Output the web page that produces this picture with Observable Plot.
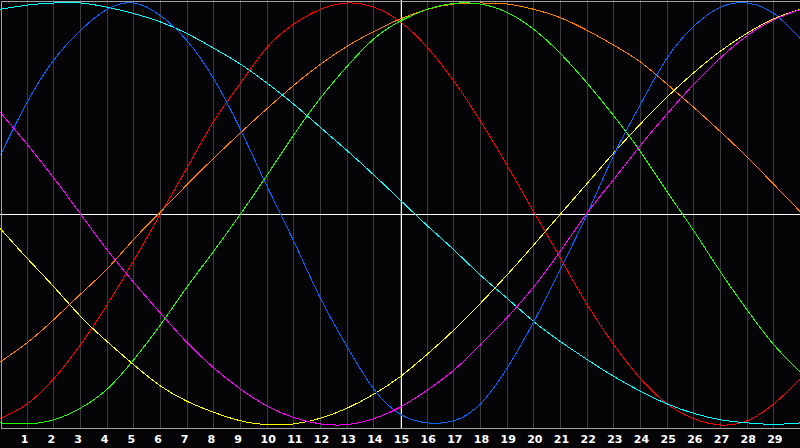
<!DOCTYPE html>
<html>
<head>
<meta charset="utf-8">
<script src="https://cdn.jsdelivr.net/npm/d3@7"></script>
<script src="https://cdn.jsdelivr.net/npm/@observablehq/plot@0.6"></script>
<style>
  html, body { margin: 0; padding: 0; background: #000; }
  #chart { width: 800px; height: 448px; }
</style>
</head>
<body>
<div id="chart"></div>
<script>
// Day positions (0..30)
const days = [0,1,2,3,4,5,6,7,8,9,10,11,12,13,14,15,16,17,18,19,20,21,22,23,24,25,26,27,28,29,30];
// Tick labels along the bottom
const tickDays = [1,2,3,4,5,6,7,8,9,10,11,12,13,14,15,16,17,18,19,20,21,22,23,24,25,26,27,28,29];
const todayMarker = [15];

// Series values (range -1..1)
const emotionalValues    = [-0.97,-0.90,-0.78,-0.62,-0.43,-0.22,0.00,0.22,0.44,0.62,0.79,0.90,0.97,1.00,0.98,0.91,0.79,0.63,0.44,0.23,0.01,-0.21,-0.43,-0.62,-0.78,-0.90,-0.97,-1.00,-0.98,-0.90,-0.78];
const awarenessValues    = [-0.70,-0.61,-0.50,-0.38,-0.26,-0.12,0.01,0.14,0.265,0.385,0.50,0.61,0.71,0.795,0.865,0.925,0.97,0.995,1.00,0.995,0.97,0.93,0.87,0.80,0.72,0.615,0.505,0.39,0.27,0.14,0.01];
const aestheticValues    = [-0.07,-0.21,-0.345,-0.485,-0.605,-0.715,-0.815,-0.888,-0.94,-0.98,-0.998,-0.995,-0.968,-0.92,-0.854,-0.77,-0.665,-0.55,-0.423,-0.288,-0.146,0.0,0.145,0.29,0.427,0.555,0.67,0.772,0.857,0.925,0.97];
const intellectualValues = [-0.99,-0.995,-0.975,-0.92,-0.83,-0.69,-0.525,-0.345,-0.175,0.0,0.185,0.375,0.55,0.70,0.83,0.915,0.97,0.998,0.995,0.955,0.875,0.76,0.62,0.465,0.295,0.105,-0.08,-0.275,-0.455,-0.62,-0.75];
const spiritualValues    = [0.97,0.99,1.00,1.00,0.98,0.95,0.91,0.855,0.785,0.71,0.62,0.52,0.41,0.30,0.185,0.065,-0.055,-0.17,-0.29,-0.40,-0.51,-0.605,-0.69,-0.77,-0.84,-0.90,-0.945,-0.975,-0.99,-0.997,-0.99];
const physicalValues     = [0.28,0.53,0.73,0.87,0.97,1.00,0.94,0.82,0.64,0.40,0.13,-0.13,-0.40,-0.63,-0.83,-0.95,-0.99,-0.98,-0.90,-0.73,-0.51,-0.26,0.00,0.28,0.52,0.74,0.89,0.98,1.00,0.95,0.83];
const intuitiveValues    = [0.48,0.33,0.17,0.0,-0.17,-0.325,-0.47,-0.61,-0.73,-0.83,-0.91,-0.965,-0.995,-0.998,-0.97,-0.915,-0.835,-0.74,-0.62,-0.49,-0.345,-0.175,0.005,0.165,0.325,0.475,0.615,0.74,0.845,0.92,0.97];

const seriesNames  = ["Emotional", "Awareness", "Aesthetic", "Intellectual", "Spiritual", "Physical", "Intuitive"];
const seriesColors = ["#ff0000", "#ff8000", "#ffff00", "#20ff00", "#00ffff", "#0066ff", "#ff00ff"];
const seriesValues = [emotionalValues, awarenessValues, aestheticValues, intellectualValues, spiritualValues, physicalValues, intuitiveValues];

const rows = seriesNames.flatMap((name, s) =>
  days.map((d, i) => ({day: d, value: seriesValues[s][i], series: name}))
);

const oneDigit = tickDays.filter(d => d < 10);
const twoDigit = tickDays.filter(d => d >= 10);

const axisOpts = {
  label: null,
  tickSize: 0,
  tickPadding: 7,
  fill: "white",
  fontWeight: "bold",
  fontSize: 11,
  fontFamily: "DejaVu Sans"
};

const chart = Plot.plot({
  width: 800,
  height: 448,
  marginLeft: 0,
  marginRight: 0,
  marginTop: 0,
  marginBottom: 20,
  style: {background: "#050508", color: "white", fontFamily: "DejaVu Sans"},
  x: {domain: [0, 30], label: null},
  y: {domain: [-1, 1], range: [424.5, 2.5], axis: null},
  color: {type: "ordinal", domain: seriesNames, range: seriesColors},
  marks: [
    Plot.ruleX(tickDays, {stroke: "#3c3c3c", strokeWidth: 1, shapeRendering: "crispEdges"}),
    Plot.ruleY([0], {stroke: "white", strokeWidth: 1, shapeRendering: "crispEdges"}),
    Plot.ruleX(todayMarker, {stroke: "white", strokeWidth: 1, dx: 0.5, shapeRendering: "crispEdges"}),
    Plot.line(rows, {x: "day", y: "value", z: "series", stroke: "series", curve: "natural", strokeWidth: 1, shapeRendering: "crispEdges"}),
    Plot.frame({stroke: "#a0a0a0", inset: 0.5, shapeRendering: "crispEdges"}),
    Plot.axisX(oneDigit, {...axisOpts, dx: -2.5}),
    Plot.axisX(twoDigit, {...axisOpts, dx: 1})
  ]
});

document.getElementById("chart").appendChild(chart);
</script>
</body>
</html>
